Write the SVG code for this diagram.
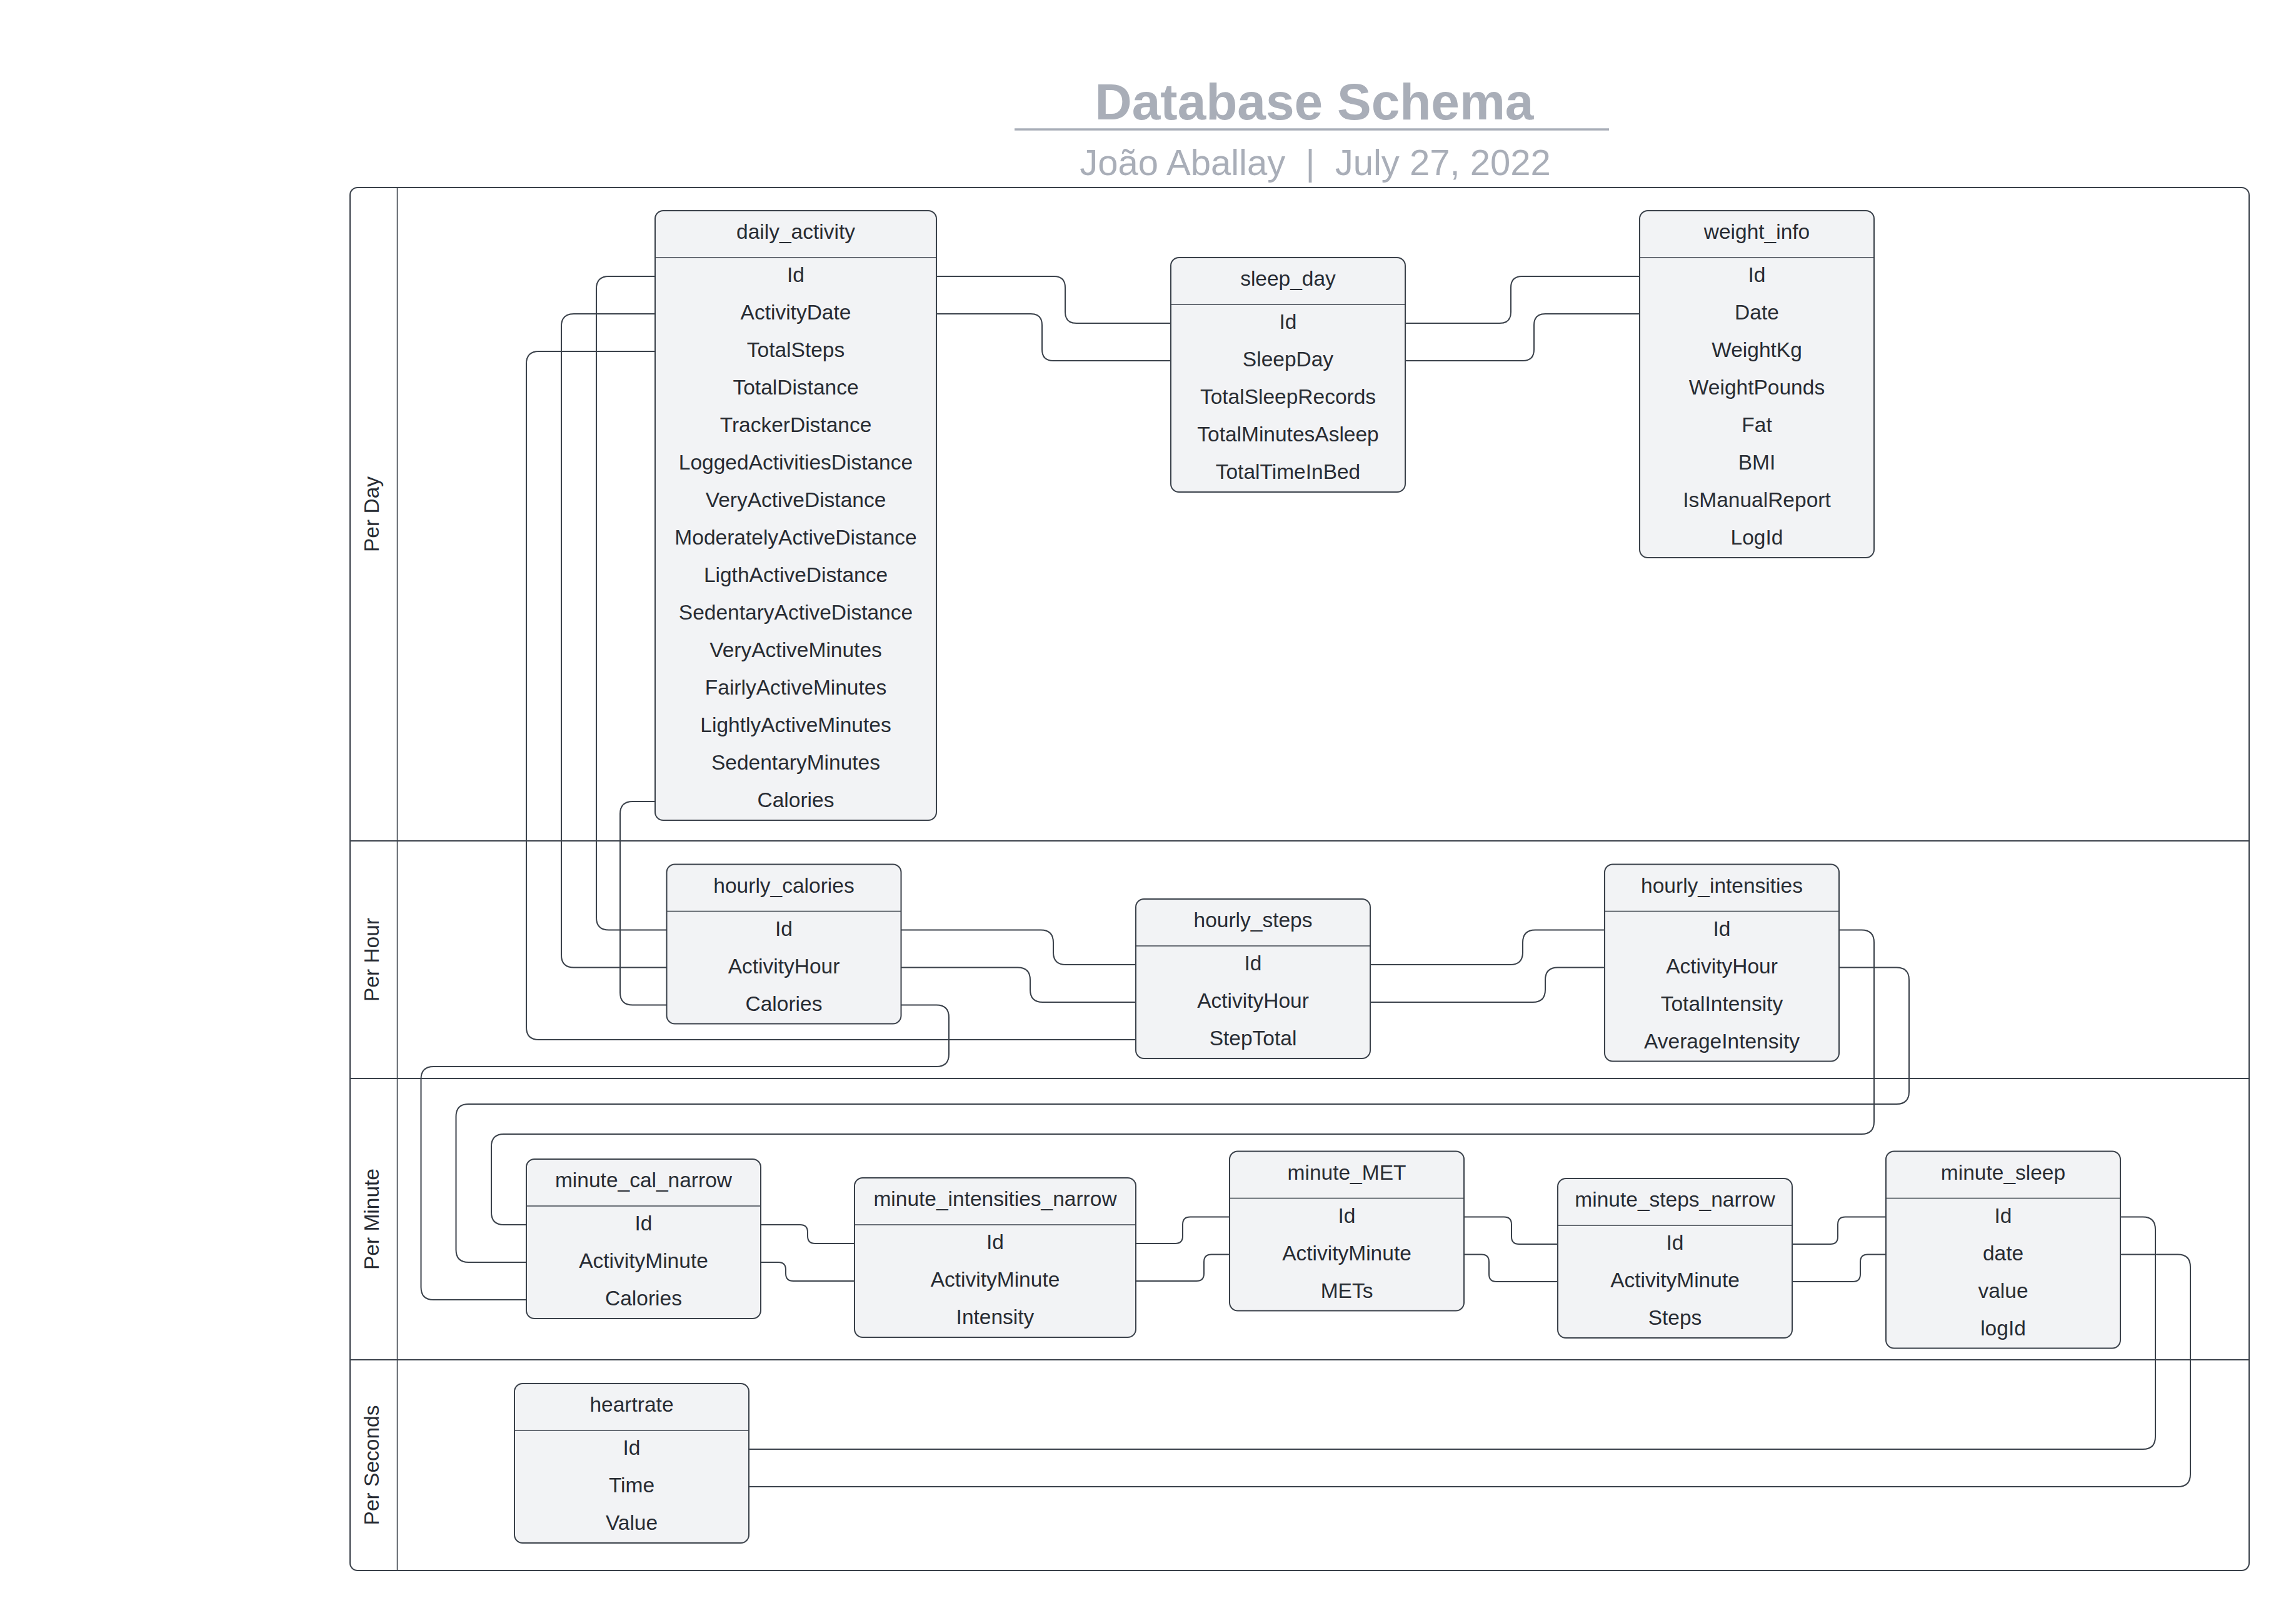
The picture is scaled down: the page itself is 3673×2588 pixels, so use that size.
<svg xmlns="http://www.w3.org/2000/svg" width="3673" height="2588" viewBox="0 0 3673 2588">
<style>
.bg{fill:#ffffff}
.lane{fill:none;stroke:#3a414a;stroke-width:2}
.div{fill:none;stroke:#3a414a;stroke-width:1.5}
.box{fill:#f2f3f5;stroke:#3a414a;stroke-width:2}
.hdr{stroke:#3a414a;stroke-width:1.5}
.t{font-family:"Liberation Sans",Arial,sans-serif;font-size:33.5px;fill:#282c33;text-anchor:middle}
.lbl{font-family:"Liberation Sans",Arial,sans-serif;font-size:33.5px;fill:#282c33;text-anchor:middle}
.title{font-family:"Liberation Sans",Arial,sans-serif;font-size:82px;font-weight:bold;fill:#a9aeb8;text-anchor:middle}
.sub{font-family:"Liberation Sans",Arial,sans-serif;font-size:58px;fill:#a9aeb8;text-anchor:middle;white-space:pre}
.conn path{fill:none;stroke:#3a414a;stroke-width:2}
</style>
<rect class="bg" x="0" y="0" width="3673" height="2588"/>

<g id="title">
<text class="title" x="2102.5" y="191">Database Schema</text>
<line x1="1623" y1="207" x2="2574" y2="207" stroke="#a9aeb8" stroke-width="3.5"/>
<text class="sub" x="2104" y="280" xml:space="preserve">João Aballay  |  July 27, 2022</text>
</g>

<g id="lanes">
<rect class="lane" x="560" y="300" width="3038" height="2212" rx="12"/>
<line class="div" x1="635.5" y1="300" x2="635.5" y2="2512"/>
<line class="lane" x1="560" y1="1345" x2="3598" y2="1345"/>
<line class="lane" x1="560" y1="1725" x2="3598" y2="1725"/>
<line class="lane" x1="560" y1="2175" x2="3598" y2="2175"/>
<text class="lbl" transform="translate(606 822.5) rotate(-90)">Per Day</text>
<text class="lbl" transform="translate(606 1535) rotate(-90)">Per Hour</text>
<text class="lbl" transform="translate(606 1950) rotate(-90)">Per Minute</text>
<text class="lbl" transform="translate(606 2343.5) rotate(-90)">Per Seconds</text>
</g>

<g class="conn" id="connectors">
<path d="M1498 442 L1686 442 Q1704 442 1704 460 L1704 499 Q1704 517 1722 517 L1873 517"/>
<path d="M1498 502 L1649 502 Q1667 502 1667 520 L1667 559 Q1667 577 1685 577 L1873 577"/>
<path d="M2248 517 L2399 517 Q2417 517 2417 499 L2417 460 Q2417 442 2435 442 L2623 442"/>
<path d="M2248 577 L2436 577 Q2454 577 2454 559 L2454 520 Q2454 502 2472 502 L2623 502"/>
<path d="M1048 442 L974 442 Q954 442 954 462 L954 1467.5 Q954 1487.5 974 1487.5 L1066.5 1487.5"/>
<path d="M1048 502 L918 502 Q898 502 898 522 L898 1527.5 Q898 1547.5 918 1547.5 L1066.5 1547.5"/>
<path d="M1048 562 L862 562 Q842 562 842 582 L842 1643 Q842 1663 862 1663 L1817 1663"/>
<path d="M1048 1282 L1012 1282 Q992 1282 992 1302 L992 1587.5 Q992 1607.5 1012 1607.5 L1066.5 1607.5"/>
<path d="M1441.5 1487.5 L1665 1487.5 Q1685 1487.5 1685 1507.5 L1685 1523 Q1685 1543 1705 1543 L1817 1543"/>
<path d="M1441.5 1547.5 L1628 1547.5 Q1648 1547.5 1648 1567.5 L1648 1583 Q1648 1603 1668 1603 L1817 1603"/>
<path d="M1441.5 1607.5 L1498 1607.5 Q1518 1607.5 1518 1627.5 L1518 1686 Q1518 1706 1498 1706 L693.5 1706 Q673.5 1706 673.5 1726 L673.5 2059 Q673.5 2079 693.5 2079 L842 2079"/>
<path d="M2192 1543 L2416 1543 Q2436 1543 2436 1523 L2436 1507.5 Q2436 1487.5 2456 1487.5 L2567 1487.5"/>
<path d="M2192 1603 L2452 1603 Q2472 1603 2472 1583 L2472 1567.5 Q2472 1547.5 2492 1547.5 L2567 1547.5"/>
<path d="M2942 1487.5 L2978 1487.5 Q2998 1487.5 2998 1507.5 L2998 1794 Q2998 1814 2978 1814 L806 1814 Q786 1814 786 1834 L786 1939 Q786 1959 806 1959 L842 1959"/>
<path d="M2942 1547.5 L3034 1547.5 Q3054 1547.5 3054 1567.5 L3054 1746 Q3054 1766 3034 1766 L749.5 1766 Q729.5 1766 729.5 1786 L729.5 1999 Q729.5 2019 749.5 2019 L842 2019"/>
<path d="M1217 1959 L1280 1959 Q1292 1959 1292 1971 L1292 1977 Q1292 1989 1304 1989 L1367 1989"/>
<path d="M1217 2019 L1245 2019 Q1257 2019 1257 2031 L1257 2037 Q1257 2049 1269 2049 L1367 2049"/>
<path d="M1817 1989 L1880 1989 Q1892 1989 1892 1977 L1892 1958.5 Q1892 1946.5 1904 1946.5 L1967 1946.5"/>
<path d="M1817 2049 L1914 2049 Q1926 2049 1926 2037 L1926 2018.5 Q1926 2006.5 1938 2006.5 L1967 2006.5"/>
<path d="M2342 1946.5 L2406 1946.5 Q2418 1946.5 2418 1958.5 L2418 1978 Q2418 1990 2430 1990 L2492 1990"/>
<path d="M2342 2006.5 L2370 2006.5 Q2382 2006.5 2382 2018.5 L2382 2038 Q2382 2050 2394 2050 L2492 2050"/>
<path d="M2867 1990 L2928 1990 Q2940 1990 2940 1978 L2940 1958.5 Q2940 1946.5 2952 1946.5 L3017 1946.5"/>
<path d="M2867 2050 L2964 2050 Q2976 2050 2976 2038 L2976 2018.5 Q2976 2006.5 2988 2006.5 L3017 2006.5"/>
<path d="M3392 1946.5 L3428 1946.5 Q3448 1946.5 3448 1966.5 L3448 2298 Q3448 2318 3428 2318 L1198 2318"/>
<path d="M3392 2006.5 L3484 2006.5 Q3504 2006.5 3504 2026.5 L3504 2358 Q3504 2378 3484 2378 L1198 2378"/>
</g>

<g id="daily_activity">
<rect class="box" x="1048" y="337" width="450" height="975" rx="13"/>
<line class="hdr" x1="1048" y1="412" x2="1498" y2="412"/>
<text class="t" x="1273" y="382">daily_activity</text>
<text class="t" x="1273" y="451">Id</text>
<text class="t" x="1273" y="511">ActivityDate</text>
<text class="t" x="1273" y="571">TotalSteps</text>
<text class="t" x="1273" y="631">TotalDistance</text>
<text class="t" x="1273" y="691">TrackerDistance</text>
<text class="t" x="1273" y="751">LoggedActivitiesDistance</text>
<text class="t" x="1273" y="811">VeryActiveDistance</text>
<text class="t" x="1273" y="871">ModeratelyActiveDistance</text>
<text class="t" x="1273" y="931">LigthActiveDistance</text>
<text class="t" x="1273" y="991">SedentaryActiveDistance</text>
<text class="t" x="1273" y="1051">VeryActiveMinutes</text>
<text class="t" x="1273" y="1111">FairlyActiveMinutes</text>
<text class="t" x="1273" y="1171">LightlyActiveMinutes</text>
<text class="t" x="1273" y="1231">SedentaryMinutes</text>
<text class="t" x="1273" y="1291">Calories</text>
</g>

<g id="sleep_day">
<rect class="box" x="1873" y="412" width="375" height="375" rx="13"/>
<line class="hdr" x1="1873" y1="487" x2="2248" y2="487"/>
<text class="t" x="2060.5" y="457">sleep_day</text>
<text class="t" x="2060.5" y="526">Id</text>
<text class="t" x="2060.5" y="586">SleepDay</text>
<text class="t" x="2060.5" y="646">TotalSleepRecords</text>
<text class="t" x="2060.5" y="706">TotalMinutesAsleep</text>
<text class="t" x="2060.5" y="766">TotalTimeInBed</text>
</g>

<g id="weight_info">
<rect class="box" x="2623" y="337" width="375" height="555" rx="13"/>
<line class="hdr" x1="2623" y1="412" x2="2998" y2="412"/>
<text class="t" x="2810.5" y="382">weight_info</text>
<text class="t" x="2810.5" y="451">Id</text>
<text class="t" x="2810.5" y="511">Date</text>
<text class="t" x="2810.5" y="571">WeightKg</text>
<text class="t" x="2810.5" y="631">WeightPounds</text>
<text class="t" x="2810.5" y="691">Fat</text>
<text class="t" x="2810.5" y="751">BMI</text>
<text class="t" x="2810.5" y="811">IsManualReport</text>
<text class="t" x="2810.5" y="871">LogId</text>
</g>

<g id="hourly_calories">
<rect class="box" x="1066.5" y="1382.5" width="375" height="255" rx="13"/>
<line class="hdr" x1="1066.5" y1="1457.5" x2="1441.5" y2="1457.5"/>
<text class="t" x="1254" y="1427.5">hourly_calories</text>
<text class="t" x="1254" y="1496.5">Id</text>
<text class="t" x="1254" y="1556.5">ActivityHour</text>
<text class="t" x="1254" y="1616.5">Calories</text>
</g>

<g id="hourly_steps">
<rect class="box" x="1817" y="1438" width="375" height="255" rx="13"/>
<line class="hdr" x1="1817" y1="1513" x2="2192" y2="1513"/>
<text class="t" x="2004.5" y="1483">hourly_steps</text>
<text class="t" x="2004.5" y="1552">Id</text>
<text class="t" x="2004.5" y="1612">ActivityHour</text>
<text class="t" x="2004.5" y="1672">StepTotal</text>
</g>

<g id="hourly_intensities">
<rect class="box" x="2567" y="1382.5" width="375" height="315" rx="13"/>
<line class="hdr" x1="2567" y1="1457.5" x2="2942" y2="1457.5"/>
<text class="t" x="2754.5" y="1427.5">hourly_intensities</text>
<text class="t" x="2754.5" y="1496.5">Id</text>
<text class="t" x="2754.5" y="1556.5">ActivityHour</text>
<text class="t" x="2754.5" y="1616.5">TotalIntensity</text>
<text class="t" x="2754.5" y="1676.5">AverageIntensity</text>
</g>

<g id="minute_cal_narrow">
<rect class="box" x="842" y="1854" width="375" height="255" rx="13"/>
<line class="hdr" x1="842" y1="1929" x2="1217" y2="1929"/>
<text class="t" x="1029.5" y="1899">minute_cal_narrow</text>
<text class="t" x="1029.5" y="1968">Id</text>
<text class="t" x="1029.5" y="2028">ActivityMinute</text>
<text class="t" x="1029.5" y="2088">Calories</text>
</g>

<g id="minute_intensities_narrow">
<rect class="box" x="1367" y="1884" width="450" height="255" rx="13"/>
<line class="hdr" x1="1367" y1="1959" x2="1817" y2="1959"/>
<text class="t" x="1592" y="1929">minute_intensities_narrow</text>
<text class="t" x="1592" y="1998">Id</text>
<text class="t" x="1592" y="2058">ActivityMinute</text>
<text class="t" x="1592" y="2118">Intensity</text>
</g>

<g id="minute_MET">
<rect class="box" x="1967" y="1841.5" width="375" height="255" rx="13"/>
<line class="hdr" x1="1967" y1="1916.5" x2="2342" y2="1916.5"/>
<text class="t" x="2154.5" y="1886.5">minute_MET</text>
<text class="t" x="2154.5" y="1955.5">Id</text>
<text class="t" x="2154.5" y="2015.5">ActivityMinute</text>
<text class="t" x="2154.5" y="2075.5">METs</text>
</g>

<g id="minute_steps_narrow">
<rect class="box" x="2492" y="1885" width="375" height="255" rx="13"/>
<line class="hdr" x1="2492" y1="1960" x2="2867" y2="1960"/>
<text class="t" x="2679.5" y="1930">minute_steps_narrow</text>
<text class="t" x="2679.5" y="1999">Id</text>
<text class="t" x="2679.5" y="2059">ActivityMinute</text>
<text class="t" x="2679.5" y="2119">Steps</text>
</g>

<g id="minute_sleep">
<rect class="box" x="3017" y="1841.5" width="375" height="315" rx="13"/>
<line class="hdr" x1="3017" y1="1916.5" x2="3392" y2="1916.5"/>
<text class="t" x="3204.5" y="1886.5">minute_sleep</text>
<text class="t" x="3204.5" y="1955.5">Id</text>
<text class="t" x="3204.5" y="2015.5">date</text>
<text class="t" x="3204.5" y="2075.5">value</text>
<text class="t" x="3204.5" y="2135.5">logId</text>
</g>

<g id="heartrate">
<rect class="box" x="823" y="2213" width="375" height="255" rx="13"/>
<line class="hdr" x1="823" y1="2288" x2="1198" y2="2288"/>
<text class="t" x="1010.5" y="2258">heartrate</text>
<text class="t" x="1010.5" y="2327">Id</text>
<text class="t" x="1010.5" y="2387">Time</text>
<text class="t" x="1010.5" y="2447">Value</text>
</g>
</svg>
